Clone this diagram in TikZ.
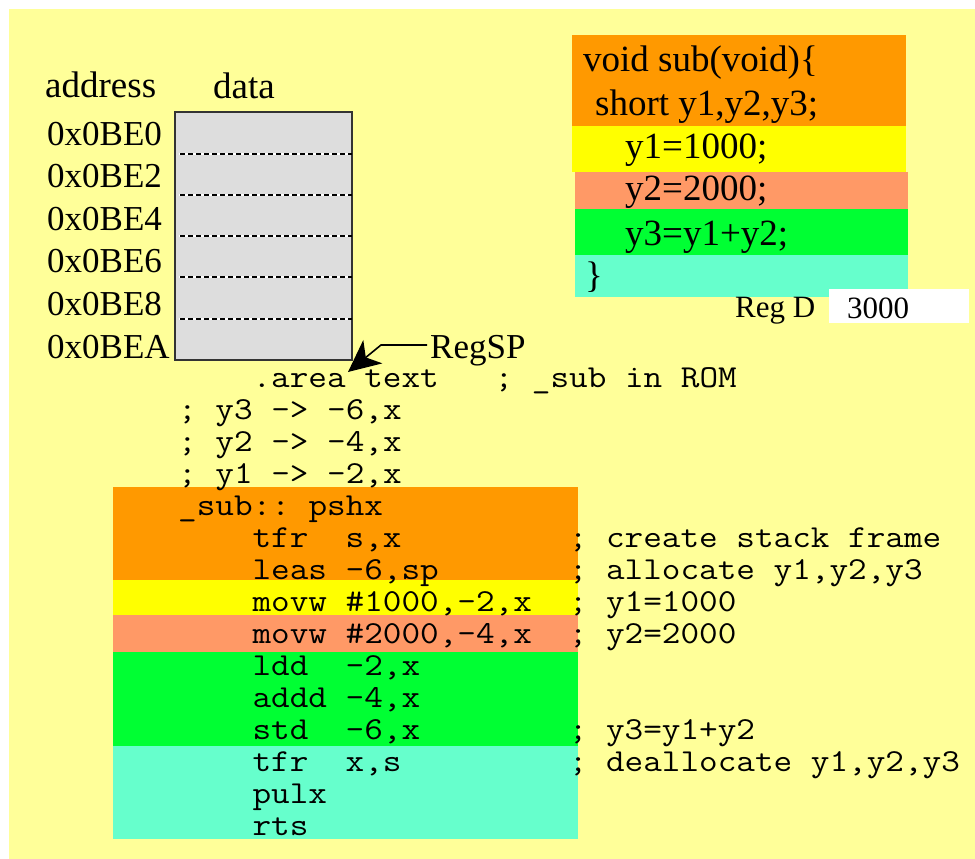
\documentclass[tikz,border=0pt]{standalone}
\usepackage{fontspec}
\setmainfont{Liberation Serif}
\usetikzlibrary{arrows.meta}
\definecolor{bgyellow}{HTML}{FFFF99}
\definecolor{borange}{HTML}{FF9900}
\definecolor{byellow}{HTML}{FFFF00}
\definecolor{bsalmon}{HTML}{FF9966}
\definecolor{bgreen}{HTML}{00FF33}
\definecolor{baqua}{HTML}{66FFCC}
\definecolor{memgray}{HTML}{DDDDDD}
\definecolor{memedge}{HTML}{333333}
\newcommand\wide[1]{\scalebox{1.13}[1]{#1}}
\tikzset{
  lbl/.style={anchor=base west, inner sep=0pt, text height=25pt, text depth=7pt, font=\fontsize{35}{40}\selectfont},
  ctext/.style={anchor=base west, inner sep=0pt, text height=27pt, text depth=8pt, font=\fontsize{37}{42}\selectfont},
  asm/.style={anchor=base west, inner sep=0pt, text height=21pt, text depth=6pt, font=\ttfamily\fontsize{32}{33}\selectfont\frenchspacing},
  regd/.style={anchor=base west, inner sep=0pt, font=\fontsize{31}{36}\selectfont},
  membox/.style={draw=memedge, line width=2pt, fill=memgray, minimum width=177pt, minimum height=248pt, inner sep=0pt},
}
\begin{document}
\begin{tikzpicture}[x=1pt,y=-1pt]
\useasboundingbox (0,0) rectangle (975,859);
\fill[white] (0,0) rectangle (975,859);
\fill[bgyellow] (9,9) rectangle (975,859);

% C code bands
\fill[borange] (572,35) rectangle (906,126);
\fill[byellow] (572,126) rectangle (906,172);
\fill[bsalmon] (575,172) rectangle (908,209);
\fill[bgreen] (575,209) rectangle (908,255);
\fill[baqua] (575,255) rectangle (908,297);

% asm bands
\fill[borange] (113,487) rectangle (578,580);
\fill[byellow] (113,580) rectangle (578,615);
\fill[bsalmon] (113,615) rectangle (578,652);
\fill[bgreen] (113,652) rectangle (578,746);
\fill[baqua] (113,746) rectangle (578,839);

% Reg D box
\fill[white] (829,289) rectangle (969,323);

% memory
\node[membox] (mem) at (263.5,235.5) {};
\foreach \yy in {153.5,194.8,236,277.3,318.6}{
  \draw[white, line width=2pt] (179,\yy) -- (352,\yy);
  \draw[black, line width=2pt, dash pattern=on 5pt off 3pt] (180,\yy) -- (352,\yy);
}

\node[lbl, font=\fontsize{37}{40}\selectfont] (haddr) at (45,97) {address};
\node[lbl, font=\fontsize{37}{40}\selectfont] (hdata) at (213,99) {data};
\node[lbl] (a0) at (47,145) {0x0BE0};
\node[lbl] (a2) at (47,187) {0x0BE2};
\node[lbl] (a4) at (47,230) {0x0BE4};
\node[lbl] (a6) at (47,272) {0x0BE6};
\node[lbl] (a8) at (47,315) {0x0BE8};
\node[lbl] (aA) at (47,358) {0x0BEA};

% C code
\node[ctext] (c1) at (583,72) {void sub(void)\{};
\node[ctext] (c2) at (595,115) {short y1,y2,y3;};
\node[ctext] (c3) at (625,158) {y1=1000;};
\node[ctext] (c4) at (625,200) {y2=2000;};
\node[ctext] (c5) at (625,245) {y3=y1+y2;};
\node[ctext] (c6) at (585,287) {\}};
\node[regd] (regdl) at (735,317) {Reg D};
\node[regd] (regdv) at (847,318) {3000};

% asm code
\node[asm] (s1) at (252.4,387) {\wide{.area text\ \ \ ; \_sub in ROM}};
\node[asm] (s2) at (178,419) {\wide{; y3 -> -6,x}};
\node[asm] (s3) at (178,451) {\wide{; y2 -> -4,x}};
\node[asm] (s4) at (178,483) {\wide{; y1 -> -2,x}};
\node[asm] (s5) at (178,515) {\wide{\_sub:: pshx}};
\node[asm] (s6) at (252.4,547) {\wide{tfr\ \ s,x}};
\node[asm] (s7) at (252.4,579) {\wide{leas -6,sp}};
\node[asm] (s8) at (252.4,611) {\wide{movw \#1000,-2,x}};
\node[asm] (s9) at (252.4,643) {\wide{movw \#2000,-4,x}};
\node[asm] (s10) at (252.4,675) {\wide{ldd\ \ -2,x}};
\node[asm] (s11) at (252.4,707) {\wide{addd -4,x}};
\node[asm] (s12) at (252.4,739) {\wide{std\ \ -6,x}};
\node[asm] (s13) at (252.4,771) {\wide{tfr\ \ x,s}};
\node[asm] (s14) at (252.4,803) {\wide{pulx}};
\node[asm] (s15) at (252.4,835) {\wide{rts}};
\node[asm] (k6) at (568.6,547) {\wide{; create stack frame}};
\node[asm] (k7) at (568.6,579) {\wide{; allocate y1,y2,y3}};
\node[asm] (k8) at (568.6,611) {\wide{; y1=1000}};
\node[asm] (k9) at (568.6,643) {\wide{; y2=2000}};
\node[asm] (k12) at (568.6,739) {\wide{; y3=y1+y2}};
\node[asm] (k13) at (568.6,771) {\wide{; deallocate y1,y2,y3}};

% RegSP arrow
\node[lbl] (regsp) at (430,358) {RegSP};
\coordinate (spbend) at (381,345);
\coordinate (sptip) at (348,372);
\draw[line width=1.6pt, -{Stealth[length=32pt,width=30pt,inset=9pt]}]
  ([xshift=-3pt,yshift=13pt]regsp.base west) -- (spbend) -- (sptip);
\end{tikzpicture}
\end{document}
